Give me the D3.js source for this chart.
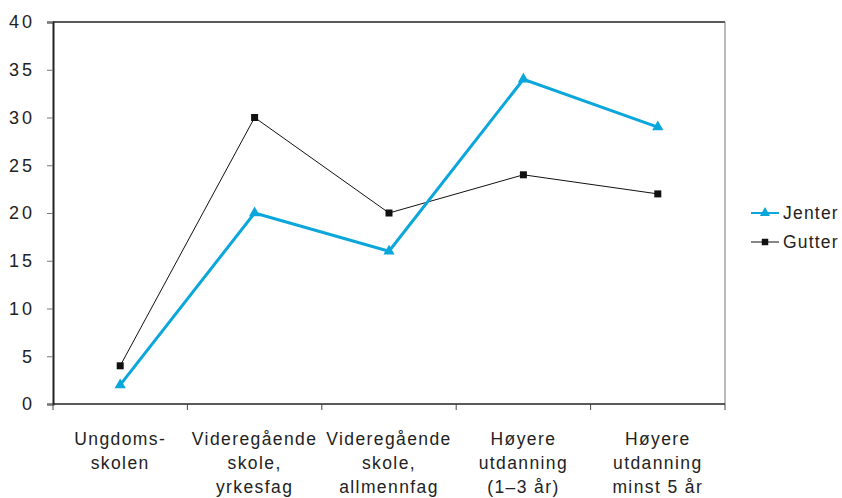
<!DOCTYPE html>
<html>
<head>
<meta charset="utf-8">
<script src="https://cdn.jsdelivr.net/npm/d3@7"></script>
<style>
	body { margin: 0; background: #fff; }
	text { font-family: "Liberation Sans", Arial, sans-serif; fill: #222; }
</style>
</head>
<body>
<svg id="chart" width="842" height="498"></svg>
<script>

var categories = [
	['Ungdoms-', 'skolen'],
	['Videregående', 'skole,', 'yrkesfag'],
	['Videregående', 'skole,', 'allmennfag'],
	['Høyere', 'utdanning', '(1–3 år)'],
	['Høyere', 'utdanning', 'minst 5 år']
];
var jenter = [2, 20, 16, 34, 29];
var gutter = [4, 30, 20, 24, 22];
var yTicks = [0, 5, 10, 15, 20, 25, 30, 35, 40];

var svg = d3.select('#chart');
var padL = 53, padR = 725, padT = 22, padB = 404;

var x = d3.scaleBand().domain(d3.range(categories.length)).range([padL, padR]);
var y = d3.scaleLinear().domain([0, 40]).range([padB, padT]);
var cx = function(d, i) { return x(i) + x.bandwidth() / 2; };

// frame
svg.append('line').attr('x1', padL).attr('x2', padR).attr('y1', padT).attr('y2', padT).style('stroke', '#222').style('stroke-width', 1.5);
svg.append('line').attr('x1', padR).attr('x2', padR).attr('y1', padT).attr('y2', padB).style('stroke', '#777').style('stroke-width', 1);

// y axis
var gy = svg.append('g').attr('transform', 'translate(' + padL + ',0)')
	.call(d3.axisLeft(y).tickValues(yTicks).tickSize(6).tickPadding(12));
gy.select('.domain').style('stroke', '#222').style('stroke-width', 2);
gy.selectAll('.tick line').style('stroke', '#777');
gy.selectAll('.tick text').style('font-size', '18px').style('letter-spacing', '3px').style('fill', '#222').style('font-family', '"Liberation Sans", Arial, sans-serif');

// x axis (ticks on band edges)
var edges = d3.range(categories.length + 1).map(function(i) { return i < categories.length ? x(i) : padR; });
var gx = svg.append('g');
gx.append('line').attr('x1', padL).attr('x2', padR).attr('y1', padB).attr('y2', padB).style('stroke', '#222').style('stroke-width', 1.5);
gx.selectAll('.tk').data(edges).enter().append('line')
	.attr('x1', function(d) { return d; }).attr('x2', function(d) { return d; })
	.attr('y1', padB).attr('y2', padB + 6).style('stroke', '#444');

var labels = svg.append('g').selectAll('text').data(categories).enter().append('text')
	.attr('text-anchor', 'middle')
	.attr('x', cx)
	.attr('y', 445)
	.style('font-size', '17.5px')
	.style('letter-spacing', '1.4px');
labels.selectAll('tspan').data(function(d, i) { return d.map(function(s) { return { s: s, i: i }; }); }).enter().append('tspan')
	.attr('x', function(d) { return cx(null, d.i); })
	.attr('dy', function(d, j) { return j === 0 ? 0 : 24; })
	.text(function(d) { return d.s; });

var line = d3.line().x(cx).y(function(d) { return y(d); });

// Gutter
svg.append('path').datum(gutter).attr('d', line).style('fill', 'none').style('stroke', '#111').style('stroke-width', 1);
svg.selectAll('.sq').data(gutter).enter().append('rect')
	.attr('x', function(d, i) { return cx(d, i) - 3.5; })
	.attr('y', function(d) { return y(d) - 3.5; })
	.attr('width', 7).attr('height', 7).style('fill', '#111');

// Jenter
var blue = '#0aa6dc';
svg.append('path').datum(jenter).attr('d', line).style('fill', 'none').style('stroke', blue).style('stroke-width', 3);
var tri = d3.symbol().type(d3.symbolTriangle).size(55);
svg.selectAll('.tr').data(jenter).enter().append('path')
	.attr('d', tri)
	.attr('transform', function(d, i) { return 'translate(' + cx(d, i) + ',' + y(d) + ')'; })
	.style('fill', blue);

// legend
var legend = [{ name: 'Jenter', color: blue, w: 2, sym: 'tri' }, { name: 'Gutter', color: '#111', w: 1, sym: 'sq' }];
var lg = svg.append('g').selectAll('g').data(legend).enter().append('g')
	.attr('transform', function(d, i) { return 'translate(751,' + (213 + i * 29) + ')'; });
lg.append('line').attr('x1', 0).attr('x2', 28).style('stroke', function(d) { return d.color; }).style('stroke-width', function(d) { return d.w; });
lg.append('path')
	.attr('d', function(d) { return d.sym === 'tri' ? d3.symbol().type(d3.symbolTriangle).size(45)() : d3.symbol().type(d3.symbolSquare).size(42)(); })
	.attr('transform', 'translate(14,0)')
	.style('fill', function(d) { return d.color; });
lg.append('text').attr('x', 32).attr('dy', '0.35em').style('font-size', '17.5px').style('letter-spacing', '1.2px').text(function(d) { return d.name; });

</script>
</body>
</html>
